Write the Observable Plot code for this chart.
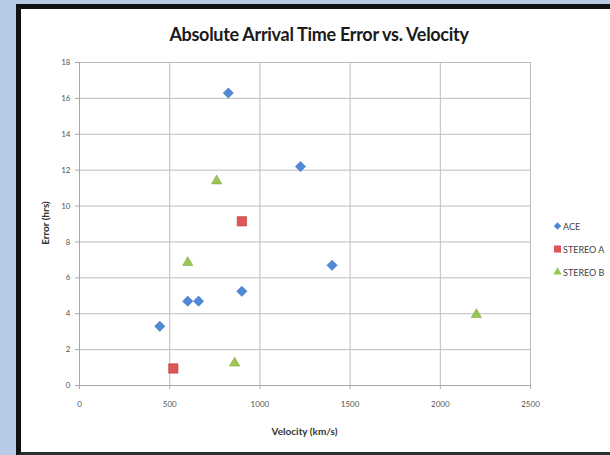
<!DOCTYPE html>
<html>
<head>
<meta charset="utf-8">
<script src="https://cdn.jsdelivr.net/npm/d3@7"></script>
<script src="https://cdn.jsdelivr.net/npm/@observablehq/plot@0.6"></script>
<style>
  html, body { margin: 0; padding: 0; }
  body { width: 610px; height: 455px; overflow: hidden; position: relative; background: #b7cbe7; font-family: Lato, "Open Sans", sans-serif; }
  #frame { position: absolute; left: 16px; top: 4px; width: 620px; height: 443px; background: #fff; border: 5px solid #111; border-bottom-color: #2a2f36; }
  #title { position: absolute; left: 0; width: 638px; top: 23px; text-align: center; font-weight: bold; font-size: 18px; color: #1a1a1a; letter-spacing: -0.3px; }
  #chart { position: absolute; left: 0; top: 0; }
  #xlabel { position: absolute; left: 79px; width: 451px; top: 425px; text-align: center; font-weight: bold; font-size: 10px; color: #333; }
  #ylabel { position: absolute; left: 45px; top: 223px; transform: translate(-50%, -50%) rotate(-90deg); font-weight: bold; font-size: 10px; color: #333; white-space: nowrap; }
  #legend { position: absolute; left: 553px; top: 221px; font-size: 9px; color: #444; }
  #legend div { height: 23px; display: flex; align-items: flex-start; }
  #legend svg { margin-right: 1px; }
</style>
</head>
<body>
<div id="frame"></div>
<div id="title">Absolute Arrival Time Error vs. Velocity</div>
<div id="chart"></div>
<div id="xlabel">Velocity (km/s)</div>
<div id="ylabel">Error (hrs)</div>
<div id="legend"></div>
<script>
// Series data
const aceVelocity = [825, 1225, 1400, 900, 600, 660, 445];
const aceError = [16.3, 12.2, 6.7, 5.25, 4.7, 4.7, 3.3];
const stereoAVelocity = [900, 520];
const stereoAError = [9.15, 0.95];
const stereoBVelocity = [760, 600, 860, 2200];
const stereoBError = [11.4, 6.85, 1.25, 3.95];
const seriesNames = ["ACE", "STEREO A", "STEREO B"];
const xTicks = [0, 500, 1000, 1500, 2000, 2500];
const yTicks = [0, 2, 4, 6, 8, 10, 12, 14, 16, 18];

const colors = {"ACE": "#5289d6", "STEREO A": "#de5656", "STEREO B": "#9cc653"};
const strokes = {"ACE": "#3e72bd", "STEREO A": "#bd3f3f", "STEREO B": "#80a83f"};
const symbols = {"ACE": "diamond2", "STEREO A": "square", "STEREO B": "triangle"};
const radii = {"ACE": 4.6, "STEREO A": 5.3, "STEREO B": 3.8};

const data = [
  ...aceVelocity.map((v, i) => ({series: "ACE", x: v, y: aceError[i]})),
  ...stereoAVelocity.map((v, i) => ({series: "STEREO A", x: v, y: stereoAError[i]})),
  ...stereoBVelocity.map((v, i) => ({series: "STEREO B", x: v, y: stereoBError[i]}))
];

const dotMarks = seriesNames.map(s => Plot.dot(data.filter(d => d.series === s), {
  x: "x", y: "y", symbol: () => symbols[s], r: radii[s],
  fill: colors[s], stroke: strokes[s], strokeWidth: 0.6
}));

const chart = Plot.plot({
  width: 610,
  height: 455,
  marginLeft: 79,
  marginRight: 80,
  marginTop: 62,
  marginBottom: 70,
  style: {background: "transparent", fontFamily: "Lato, sans-serif"},
  symbol: {type: "identity"},
  x: {domain: [0, 2500], ticks: xTicks, label: null},
  y: {domain: [0, 18], ticks: yTicks, label: null},
  marks: [
    Plot.gridX(xTicks, {stroke: "#bdbdbd", strokeOpacity: 1, strokeWidth: 1}),
    Plot.gridY(yTicks, {stroke: "#bdbdbd", strokeOpacity: 1, strokeWidth: 1}),
    Plot.ruleX([0], {stroke: "#a8a8a8"}),
    Plot.ruleY([0], {stroke: "#a8a8a8"}),
    Plot.axisX({ticks: xTicks, tickFormat: d3.format("d"), tickSize: 4, tickPadding: 12, stroke: "#a8a8a8", fill: "#555", fontSize: 8, label: null}),
    Plot.axisY({ticks: yTicks, tickFormat: d3.format("d"), tickSize: 4, tickPadding: 5, stroke: "#a8a8a8", fill: "#555", fontSize: 8, label: null}),
    ...dotMarks
  ]
});
document.getElementById("chart").appendChild(chart);

// Legend
const legend = document.getElementById("legend");
for (const s of seriesNames) {
  const row = document.createElement("div");
  const sym = d3.symbol(s === "ACE" ? d3.symbolDiamond2 : s === "STEREO A" ? d3.symbolSquare : d3.symbolTriangle, s === "ACE" ? 36 : s === "STEREO A" ? 50 : 30)();
  row.innerHTML = `<svg width="9" height="10" viewBox="-4.5 -5 9 10"><path d="${sym}" fill="${colors[s]}"/></svg><span>${s}</span>`;
  legend.appendChild(row);
}
</script>
</body>
</html>
